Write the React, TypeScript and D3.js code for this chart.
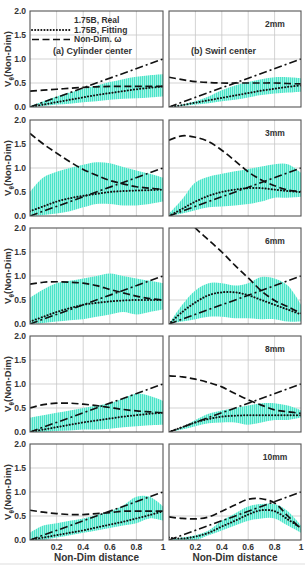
import * as d3 from "d3";

// shared x grid (non-dimensional distance)
const xs = [0, 0.1, 0.2, 0.3, 0.4, 0.5, 0.6, 0.7, 0.8, 0.9, 1.0];
const xTicks = [0.2, 0.4, 0.6, 0.8, 1];
const yTicks = [0, 0.5, 1.0, 1.5, 2.0];
const gapLabels = ["2mm", "3mm", "6mm", "8mm", "10mm"];
const linearRef = [[0, 0], [1, 1]];

// (a) cylinder center
const cylOmega = [
  [0.33, 0.35, 0.37, 0.39, 0.41, 0.42, 0.43, 0.43, 0.43, 0.43, 0.43],
  [1.72, 1.5, 1.31, 1.13, 0.97, 0.85, 0.74, 0.67, 0.61, 0.58, 0.55],
  [0.83, 0.87, 0.88, 0.87, 0.85, 0.8, 0.72, 0.65, 0.58, 0.53, 0.5],
  [0.5, 0.57, 0.6, 0.6, 0.58, 0.55, 0.51, 0.47, 0.44, 0.42, 0.4],
  [0.62, 0.58, 0.55, 0.53, 0.53, 0.55, 0.57, 0.6, 0.6, 0.6, 0.6],
];
const cylFit = [
  [0, 0.05, 0.1, 0.15, 0.2, 0.25, 0.29, 0.33, 0.37, 0.4, 0.43],
  [0.1, 0.2, 0.3, 0.37, 0.42, 0.46, 0.5, 0.52, 0.53, 0.54, 0.55],
  [0.05, 0.15, 0.25, 0.33, 0.4, 0.44, 0.47, 0.49, 0.5, 0.5, 0.5],
  [0, 0.05, 0.1, 0.15, 0.2, 0.24, 0.28, 0.32, 0.35, 0.38, 0.4],
  [0, 0.05, 0.1, 0.15, 0.2, 0.26, 0.32, 0.38, 0.45, 0.52, 0.6],
];
const cylRealLow = [
  [0, 0.02, 0.05, 0.07, 0.1, 0.12, 0.15, 0.17, 0.18, 0.2, 0.22],
  [0, 0.02, 0.05, 0.1, 0.18, 0.25, 0.25, 0.22, 0.22, 0.25, 0.3],
  [0, 0.02, 0.05, 0.08, 0.1, 0.15, 0.2, 0.25, 0.2, 0.25, 0.3],
  [0, 0, 0.02, 0.03, 0.05, 0.05, 0.07, 0.1, 0.12, 0.14, 0.15],
  [0, 0, 0.05, 0.1, 0.15, 0.2, 0.25, 0.3, 0.35, 0.45, 0.4],
];
const cylRealHigh = [
  [0.02, 0.12, 0.22, 0.3, 0.38, 0.45, 0.52, 0.58, 0.63, 0.66, 0.68],
  [0.5, 0.8, 0.92, 1.0, 1.07, 1.12, 1.1, 1.02, 0.95, 0.88, 0.8],
  [0.55, 0.72, 0.85, 0.9, 0.95, 1.0, 1.05, 1.0, 0.95, 0.9, 0.85],
  [0.3, 0.35, 0.4, 0.45, 0.5, 0.55, 0.6, 0.7, 0.8, 0.75, 0.65],
  [0.15, 0.3, 0.35, 0.4, 0.45, 0.52, 0.6, 0.72, 0.9, 0.9, 0.7],
];

// (b) swirl center
const swOmega = [
  [0.62, 0.57, 0.53, 0.51, 0.5, 0.5, 0.5, 0.5, 0.5, 0.49, 0.48],
  [1.58, 1.67, 1.64, 1.55, 1.37, 1.15, 0.92, 0.75, 0.63, 0.54, 0.51],
  [2.7, 2.35, 2.0, 1.75, 1.5, 1.22, 0.96, 0.69, 0.49, 0.36, 0.22],
  [1.17, 1.15, 1.1, 1.03, 0.94, 0.8, 0.67, 0.56, 0.46, 0.42, 0.39],
  [0.48, 0.45, 0.44, 0.48, 0.6, 0.73, 0.85, 0.86, 0.77, 0.5, 0.23],
];
const swFit = [
  [0, 0.04, 0.09, 0.14, 0.19, 0.24, 0.29, 0.34, 0.38, 0.42, 0.45],
  [0, 0.15, 0.3, 0.42, 0.5, 0.55, 0.58, 0.58, 0.55, 0.52, 0.5],
  [0, 0.25, 0.45, 0.6, 0.66, 0.66, 0.6, 0.5, 0.4, 0.3, 0.2],
  [0, 0.1, 0.2, 0.27, 0.32, 0.34, 0.35, 0.35, 0.35, 0.35, 0.35],
  [0.05, 0.03, 0.07, 0.15, 0.28, 0.4, 0.53, 0.62, 0.6, 0.43, 0.25],
];
const swRealLow = [
  [0, 0.02, 0.05, 0.08, 0.12, 0.15, 0.2, 0.25, 0.28, 0.3, 0.32],
  [0, 0.05, 0.12, 0.18, 0.2, 0.22, 0.25, 0.3, 0.38, 0.38, 0.4],
  [0, 0.05, 0.1, 0.15, 0.15, 0.12, 0.12, 0.1, 0.1, 0.05, 0.05],
  [0, 0.05, 0.12, 0.18, 0.2, 0.2, 0.15, 0.2, 0.25, 0.25, 0.3],
  [0, 0, 0, 0.1, 0.2, 0.3, 0.4, 0.45, 0.45, 0.3, 0.15],
];
const swRealHigh = [
  [0, 0.05, 0.12, 0.22, 0.35, 0.45, 0.52, 0.58, 0.62, 0.62, 0.6],
  [0.05, 0.35, 0.7, 0.82, 0.88, 0.93, 0.98, 1.03, 1.08, 1.08, 0.9],
  [0, 0.4, 0.7, 0.85, 0.85, 0.8, 0.85, 0.98, 0.95, 0.8, 0.4],
  [0, 0.1, 0.25, 0.38, 0.45, 0.5, 0.55, 0.6, 0.6, 0.55, 0.45],
  [0, 0.05, 0.1, 0.2, 0.4, 0.55, 0.7, 0.75, 0.75, 0.6, 0.3],
];

const W = 305;
const H = 566;
const cols = [
  { x0: 30, x1: 163 },
  { x0: 169, x1: 301 },
];
const rowTops = [11, 120, 228, 336, 444];
const panelH = 96;
const font = "'Liberation Sans', Arial, sans-serif";
const ink = "#333";

function Panel({ row, col }: { row: number; col: number }) {
  const { x0, x1 } = cols[col];
  const top = rowTops[row];
  const bottom = top + panelH;
  const x = d3.scaleLinear().domain([0, 1]).range([x0, x1]);
  const y = d3.scaleLinear().domain([0, 2]).range([bottom, top]);
  const omega = col === 0 ? cylOmega[row] : swOmega[row];
  const fit = col === 0 ? cylFit[row] : swFit[row];
  const lo = col === 0 ? cylRealLow[row] : swRealLow[row];
  const hi = col === 0 ? cylRealHigh[row] : swRealHigh[row];
  const id = `clip-${row}-${col}`;

  const line = d3
    .line<number>()
    .x((_, i) => x(xs[i]))
    .y((d) => y(d))
    .curve(d3.curveCatmullRom);
  const band = d3
    .area<number>()
    .x((_, i) => x(xs[i]))
    .y0((_, i) => y(lo[i]))
    .y1((d) => y(d))
    .curve(d3.curveCatmullRom);
  const ref = d3
    .line<number[]>()
    .x((d) => x(d[0]))
    .y((d) => y(d[1]));

  return (
    <g>
      <clipPath id={id}>
        <rect x={x0} y={top} width={x1 - x0} height={panelH} />
      </clipPath>
      {xTicks.slice(0, 4).map((t) => (
        <line key={"gx" + t} x1={x(t)} x2={x(t)} y1={top} y2={bottom} stroke="#c8c8c8" strokeWidth={0.8} />
      ))}
      {yTicks.slice(1, 4).map((t) => (
        <line key={"gy" + t} x1={x0} x2={x1} y1={y(t)} y2={y(t)} stroke="#c8c8c8" strokeWidth={0.8} />
      ))}
      <g clipPath={`url(#${id})`}>
        <path d={band(hi) || ""} fill="url(#realHatch)" />
        <path d={ref(linearRef) || ""} fill="none" stroke="#111" strokeWidth={1.6} strokeDasharray="8,3,2,3" />
        <path d={line(omega) || ""} fill="none" stroke="#111" strokeWidth={1.7} strokeDasharray="7,3.5" />
        <path d={line(fit) || ""} fill="none" stroke="#111" strokeWidth={2} strokeDasharray="0.1,3" strokeLinecap="round" />
      </g>
      <rect x={x0} y={top} width={x1 - x0} height={panelH} fill="none" stroke="#555" strokeWidth={1.1} />
      {col === 0 &&
        yTicks.map((t) => (
          <text key={"yt" + t} x={x0 - 4} y={y(t) + 3} textAnchor="end" fontSize={8.5} fontWeight="bold" fill={ink}>
            {t.toFixed(1)}
          </text>
        ))}
      {col === 0 && (
        <text
          transform={`translate(${11},${(top + bottom) / 2}) rotate(-90)`}
          textAnchor="middle"
          fontSize={9.5}
          fontWeight="bold"
          fill={ink}
        >
          V<tspan fontSize={6.5} dy={2.5}>θ</tspan>
          <tspan dy={-2.5}>(Non-Dim)</tspan>
        </text>
      )}
      {col === 1 && (
        <text x={275} y={top + 16} textAnchor="middle" fontSize={8.5} fontWeight="bold" fill={ink}>
          {gapLabels[row]}
        </text>
      )}
      {row === 4 &&
        xTicks.map((t) => (
          <text key={"xt" + t} x={x(t)} y={bottom + 10} textAnchor="middle" fontSize={8.5} fontWeight="bold" fill={ink}>
            {t === 1 ? "1" : t.toFixed(1)}
          </text>
        ))}
      {row === 4 && (
        <text x={(x0 + x1) / 2} y={bottom + 21} textAnchor="middle" fontSize={10} fontWeight="bold" fill={ink}>
          Non-Dim distance
        </text>
      )}
    </g>
  );
}

export default function App() {
  return (
    <svg
      width={W}
      height={H}
      style={{ position: "absolute", left: 0, top: 0, background: "#fff" }}
      fontFamily={font}
    >
      <defs>
        <pattern id="realHatch" width={2} height={4} patternUnits="userSpaceOnUse">
          <rect width={2} height={4} fill="#a3f3e4" />
          <rect width={1} height={4} fill="#4ae4c9" />
        </pattern>
      </defs>
      {[0, 1, 2, 3, 4].map((r) =>
        [0, 1].map((c) => <Panel key={`${r}-${c}`} row={r} col={c} />)
      )}
      {/* legend */}
      <g fontSize={8.5} fontWeight="bold" fill={ink}>
        <text x={74} y={23}>1.75B, Real</text>
        <text x={74} y={32.5}>1.75B, Fitting</text>
        <text x={74} y={42}>Non-Dim. ω</text>
      </g>
      <line x1={32} x2={70} y1={30} y2={30} stroke="#111" strokeWidth={2} strokeDasharray="0.1,3" strokeLinecap="round" />
      <line x1={32} x2={70} y1={39.5} y2={39.5} stroke="#111" strokeWidth={1.7} strokeDasharray="7,3.5" />
      <text x={53} y={54} fontSize={9} fontWeight="bold" fill={ink}>(a) Cylinder center</text>
      <text x={191} y={54} fontSize={9} fontWeight="bold" fill={ink}>(b) Swirl center</text>
      <line x1={0} x2={W} y1={564} y2={564} stroke="#ddd" strokeWidth={1} />
    </svg>
  );
}
